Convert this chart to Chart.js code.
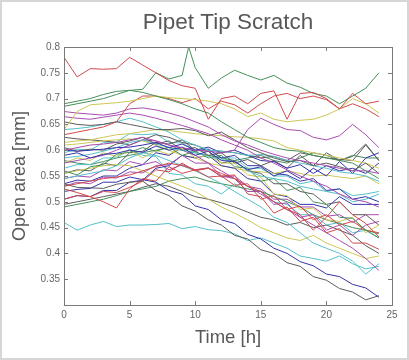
<!DOCTYPE html>
<html><head><meta charset="utf-8">
<script src="https://cdn.jsdelivr.net/npm/chart.js@4/dist/chart.umd.min.js"></script>
<style>html,body{margin:0;padding:0;background:#fff}#wrap{position:relative;width:409px;height:360px}</style>
</head><body><div id="wrap"><canvas id="c" width="409" height="360"></canvas></div>
<script>
const hours = [0,1,2,3,4,5,6,7,8,9,10,11,12,13,14,15,16,17,18,19,20,21,22,23,24];
const hoursS02 = [0,1,2,3,4,5,6,7,8,9,9.5,10,11,12,13,14,15,16,17,18,19,20,21,22,23,24];
const xTicks = [0,5,10,15,20,25];
const yTicks = [0.35,0.4,0.45,0.5,0.55,0.6,0.65,0.7,0.75,0.8];

const s01 = [.780,.742,.758,.757,.758,.780,.765,.750,.735,.725,.720,.660,.700,.705,.690,.710,.715,.660,.710,.712,.700,.680,.710,.690,.695];
const s02 = [.690,.695,.700,.708,.714,.716,.718,.750,.738,.745,.800,.760,.720,.740,.755,.745,.736,.745,.730,.722,.710,.705,.690,.705,.720,.750];
const s03 = [.685,.690,.695,.700,.708,.716,.712,.705,.698,.690,.680,.672,.655,.640,.625,.615,.605,.600,.598,.590,.585,.580,.575,.560,.545];
const s04 = [.640,.675,.688,.690,.692,.695,.700,.705,.702,.700,.698,.695,.690,.680,.665,.672,.660,.655,.658,.660,.668,.680,.700,.690,.672];
const s05 = [.630,.635,.640,.645,.655,.690,.705,.705,.700,.692,.700,.680,.695,.688,.672,.690,.705,.710,.700,.705,.698,.680,.690,.680,.665];
const s06 = [.600,.605,.610,.612,.615,.620,.625,.618,.610,.605,.600,.598,.595,.600,.640,.662,.650,.640,.638,.625,.620,.628,.650,.630,.605];
const s07 = [.665,.662,.660,.664,.668,.672,.668,.662,.655,.648,.640,.632,.620,.610,.600,.585,.575,.562,.550,.540,.530,.515,.505,.500,.490];
const s08 = [.675,.672,.670,.668,.672,.680,.682,.678,.672,.665,.655,.645,.630,.618,.610,.600,.592,.585,.580,.575,.570,.565,.560,.560,.555];
const s09 = [.655,.650,.648,.650,.655,.650,.645,.640,.640,.642,.638,.628,.635,.620,.605,.595,.585,.578,.580,.570,.575,.568,.560,.575,.555];
const s10 = [.640,.642,.645,.650,.655,.662,.655,.645,.635,.620,.610,.600,.598,.595,.590,.592,.588,.580,.575,.570,.565,.558,.555,.550,.540];
const s11 = [.615,.618,.620,.625,.630,.632,.636,.640,.638,.635,.632,.630,.628,.626,.625,.622,.618,.605,.600,.595,.590,.585,.580,.575,.565];
const s12 = [.600,.598,.600,.602,.605,.606,.610,.615,.605,.612,.600,.606,.595,.600,.590,.580,.578,.565,.572,.555,.570,.560,.565,.555,.575];
const s13 = [.590,.595,.585,.592,.594,.600,.596,.608,.600,.606,.590,.598,.580,.578,.562,.568,.550,.560,.545,.565,.550,.578,.555,.585,.595];
const s14 = [.605,.598,.602,.600,.612,.618,.625,.612,.618,.600,.605,.590,.595,.575,.582,.570,.580,.565,.590,.570,.595,.580,.588,.612,.580];
const s15 = [.585,.588,.592,.598,.605,.615,.620,.612,.605,.600,.595,.588,.582,.578,.560,.550,.545,.540,.530,.525,.520,.515,.500,.505,.515];
const s16 = [.560,.552,.568,.572,.592,.596,.605,.598,.606,.590,.598,.585,.590,.568,.565,.540,.545,.522,.528,.500,.495,.470,.468,.445,.430];
const s17 = [.525,.518,.510,.500,.488,.525,.545,.540,.568,.555,.562,.548,.550,.532,.535,.505,.512,.485,.492,.465,.475,.455,.462,.445,.440];
const s18 = [.530,.535,.540,.545,.548,.552,.560,.568,.575,.570,.562,.565,.555,.545,.530,.520,.500,.485,.475,.445,.470,.500,.475,.458,.432];
const s19 = [.505,.512,.510,.520,.518,.528,.540,.562,.558,.575,.560,.565,.550,.552,.515,.510,.478,.490,.462,.470,.440,.448,.420,.420,.408];
const s20 = [.530,.538,.535,.548,.546,.558,.556,.570,.572,.590,.575,.575,.550,.545,.520,.520,.495,.498,.470,.475,.445,.455,.435,.455,.462];
const s21 = [.575,.580,.585,.590,.600,.610,.620,.618,.610,.600,.590,.575,.560,.545,.530,.515,.500,.485,.470,.455,.440,.425,.410,.390,.367];
const s22 = [.545,.550,.555,.560,.570,.585,.595,.590,.580,.570,.560,.548,.535,.520,.505,.490,.470,.460,.440,.420,.410,.400,.385,.360,.380];
const s23 = [.520,.524,.526,.538,.538,.548,.543,.538,.522,.515,.492,.485,.465,.458,.437,.428,.410,.400,.384,.376,.360,.355,.340,.333,.315];
const s24 = [.535,.528,.527,.526,.534,.538,.540,.522,.512,.492,.482,.465,.455,.435,.428,.407,.400,.382,.375,.355,.348,.332,.325,.310,.318];
const s25 = [.460,.445,.455,.462,.452,.455,.455,.456,.458,.448,.452,.446,.444,.438,.425,.430,.420,.410,.395,.390,.385,.395,.380,.370,.375];
const s26 = [.555,.560,.565,.570,.572,.570,.560,.550,.540,.530,.520,.505,.490,.478,.465,.450,.440,.430,.425,.435,.420,.410,.400,.390,.395];
const s27 = [.575,.585,.580,.595,.588,.600,.585,.600,.592,.605,.585,.590,.575,.575,.552,.548,.515,.512,.485,.488,.465,.462,.470,.440,.455];
const s28 = [.555,.562,.560,.575,.570,.595,.598,.615,.612,.620,.600,.598,.575,.580,.560,.555,.535,.535,.520,.515,.495,.500,.475,.475,.455];
const s29 = [.505,.512,.510,.522,.522,.538,.542,.565,.570,.590,.585,.590,.570,.565,.545,.540,.515,.510,.495,.495,.488,.510,.495,.495,.495];
const s30 = [.490,.495,.500,.505,.512,.520,.525,.530,.540,.545,.548,.540,.535,.530,.525,.520,.510,.500,.490,.475,.465,.458,.450,.445,.438];
const s31 = [.565,.572,.572,.585,.585,.602,.590,.588,.555,.552,.535,.530,.515,.535,.520,.520,.500,.495,.475,.475,.455,.460,.440,.445,.430];
const s32 = [.610,.612,.615,.618,.620,.622,.618,.610,.600,.590,.585,.575,.570,.565,.560,.558,.555,.560,.555,.550,.552,.548,.545,.550,.535];
const s33 = [.625,.622,.620,.618,.615,.610,.620,.630,.625,.615,.610,.600,.598,.595,.590,.585,.588,.580,.595,.590,.585,.582,.580,.610,.580];
const s34 = [.545,.550,.548,.562,.560,.578,.572,.578,.562,.572,.562,.566,.548,.550,.530,.525,.505,.505,.490,.490,.472,.475,.460,.475,.475];
const s35 = [.535,.542,.540,.550,.550,.565,.572,.595,.590,.605,.598,.602,.585,.590,.570,.570,.555,.552,.540,.545,.522,.525,.505,.510,.500];
const s36 = [.595,.602,.600,.615,.616,.632,.630,.632,.615,.614,.600,.602,.585,.585,.565,.565,.550,.550,.535,.540,.520,.525,.512,.515,.520];
const s37 = [.495,.500,.505,.510,.515,.520,.528,.535,.530,.520,.510,.505,.498,.490,.480,.470,.465,.455,.460,.450,.455,.445,.435,.415,.400];
const s38 = [.580,.575,.572,.578,.585,.590,.595,.600,.605,.600,.595,.590,.585,.580,.585,.590,.580,.575,.585,.595,.590,.580,.590,.585,.585];

// style lookup (colour per series), kept apart from the values
const palette = {b:'#3434a8', g:'#45905a', r:'#cf4a4e', c:'#55c0ca', m:'#a84cb0', y:'#cdc655', k:'#5c5c5c'};
const seriesList = [
  [s01,'r',hours],[s02,'g',hoursS02],[s03,'g',hours],[s04,'y',hours],[s05,'r',hours],
  [s06,'m',hours],[s07,'m',hours],[s08,'m',hours],[s09,'k',hours],[s10,'c',hours],
  [s11,'y',hours],[s12,'b',hours],[s13,'b',hours],[s14,'k',hours],[s15,'c',hours],
  [s16,'g',hours],[s17,'r',hours],[s18,'r',hours],[s19,'r',hours],[s20,'m',hours],
  [s21,'m',hours],[s22,'c',hours],[s23,'b',hours],[s24,'k',hours],[s25,'c',hours],
  [s26,'y',hours],[s27,'y',hours],[s28,'k',hours],[s29,'b',hours],[s30,'g',hours],
  [s31,'c',hours],[s32,'y',hours],[s33,'k',hours],[s34,'m',hours],[s35,'b',hours],
  [s36,'c',hours],[s37,'k',hours],[s38,'g',hours]
];

const datasets = seriesList.map(([vals, col, t], i) => ({
  label: 'S' + (i + 1),
  data: vals.map((v, j) => ({x: t[j], y: v})),
  borderColor: palette[col],
  borderWidth: 1,
  pointRadius: 0,
  tension: 0,
  fill: false
}));

Chart.defaults.font.family = "'Liberation Sans', Arial, sans-serif";

const frame = {
  id: 'frame',
  afterDatasetsDraw(chart) {
    const {ctx, chartArea: a, scales} = chart;
    ctx.save();
    ctx.strokeStyle = '#7a7a7a';
    ctx.lineWidth = 1;
    ctx.strokeRect(Math.round(a.left) + 0.5, Math.round(a.top) + 0.5, Math.round(a.right - a.left), Math.round(a.bottom - a.top));
    const L = 4;
    ctx.beginPath();
    xTicks.forEach(v => {
      if (v <= 0 || v >= 25) return;
      const px = Math.round(scales.x.getPixelForValue(v)) + 0.5;
      ctx.moveTo(px, a.bottom); ctx.lineTo(px, a.bottom - L);
      ctx.moveTo(px, a.top); ctx.lineTo(px, a.top + L);
    });
    yTicks.forEach(v => {
      if (v >= 0.8) return;
      const py = Math.round(scales.y.getPixelForValue(v)) + 0.5;
      ctx.moveTo(a.left, py); ctx.lineTo(a.left + L, py);
      ctx.moveTo(a.right, py); ctx.lineTo(a.right - L, py);
    });
    ctx.stroke();
    ctx.restore();
  },
  afterDraw(chart) {
    const ctx = chart.ctx;
    ctx.save();
    ctx.strokeStyle = '#d6d6d6';
    ctx.lineWidth = 2;
    ctx.strokeRect(1, 1, chart.width - 2, chart.height - 2);
    ctx.restore();
  }
};

new Chart(document.getElementById('c'), {
  type: 'line',
  data: {datasets},
  options: {
    responsive: false,
    animation: false,
    devicePixelRatio: 1,
    layout: {padding: {left: 0, right: 17, top: 0, bottom: 0}},
    plugins: {
      legend: {display: false},
      tooltip: {enabled: false},
      title: {
        display: true, text: 'Pipet Tip Scratch', fullSize: false,
        color: '#585858', font: {size: 22.5, weight: 'normal'},
        padding: {top: 9, bottom: 11}
      }
    },
    scales: {
      x: {
        type: 'linear', min: 0, max: 25,
        afterBuildTicks: s => { s.ticks = xTicks.map(v => ({value: v})); },
        afterFit: s => { s.height = 55; },
        grid: {display: false, drawTicks: false},
        border: {display: false},
        ticks: {color: '#666', font: {size: 10}, padding: 4, maxRotation: 0, autoSkip: false},
        title: {display: true, text: 'Time [h]', color: '#585858', font: {size: 18.5}, padding: {top: 0, bottom: 11}}
      },
      y: {
        type: 'linear', min: 0.3, max: 0.8,
        afterBuildTicks: s => { s.ticks = yTicks.map(v => ({value: v})); },
        afterFit: s => { s.width = 64; },
        grid: {display: false, drawTicks: false},
        border: {display: false},
        ticks: {color: '#666', font: {size: 10}, padding: 4, autoSkip: false,
          callback: v => String(Math.round(v * 100) / 100)},
        title: {display: true, text: 'Open area [mm]', color: '#585858', font: {size: 18}, padding: {top: 9, bottom: 0}}
      }
    }
  },
  plugins: [frame]
});
</script></body></html>
